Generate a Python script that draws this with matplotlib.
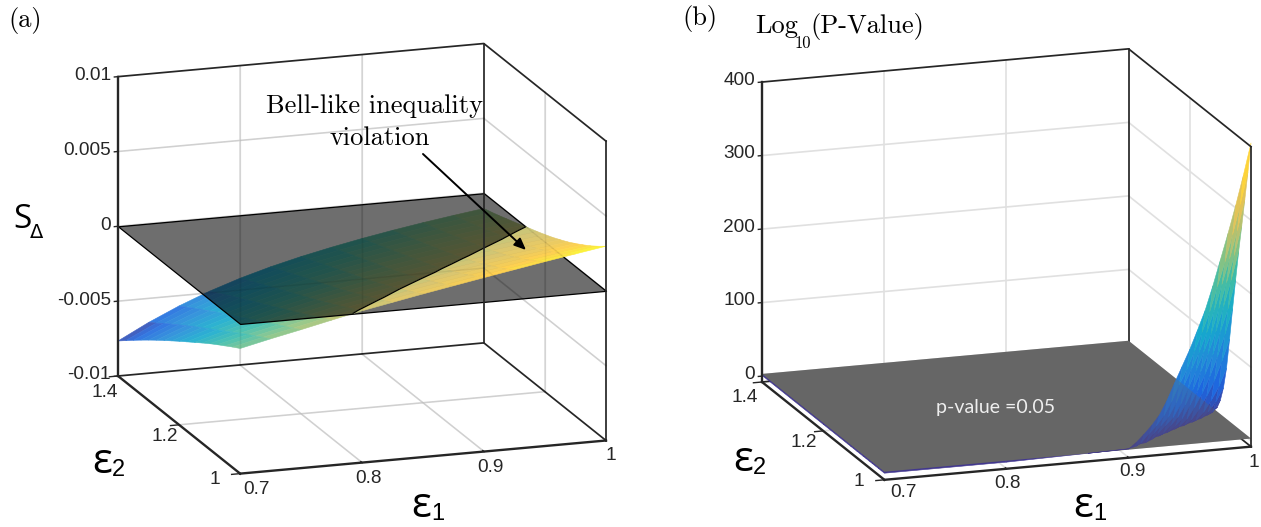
import numpy as np
import matplotlib
matplotlib.use('Agg')
import matplotlib.pyplot as plt
from matplotlib.colors import LinearSegmentedColormap
from mpl_toolkits.mplot3d import proj3d
from mpl_toolkits.mplot3d.art3d import Poly3DCollection

W, H = 1261, 527

# panel (a), S_delta in units of 1e-3, one row per eps1 value
eps1_a = [0.7, 0.725, 0.75, 0.775, 0.8, 0.825, 0.85, 0.875, 0.9, 0.925, 0.95, 0.975, 1.0]
eps2_a = [1.0, 1.025, 1.05, 1.075, 1.1, 1.125, 1.15, 1.175, 1.2, 1.225, 1.25, 1.275, 1.3, 1.325, 1.35, 1.375, 1.4]
s_delta = [
    [-1.64, -1.95, -2.28, -2.61, -2.95, -3.31, -3.68, -4.05, -4.42, -4.80, -5.18, -5.57, -5.97, -6.38, -6.80, -7.23, -7.66],
    [-1.18, -1.48, -1.80, -2.11, -2.43, -2.76, -3.10, -3.43, -3.76, -4.10, -4.43, -4.78, -5.13, -5.49, -5.86, -6.24, -6.61],
    [-0.75, -1.05, -1.35, -1.64, -1.95, -2.26, -2.56, -2.86, -3.16, -3.47, -3.76, -4.07, -4.39, -4.70, -5.03, -5.36, -5.69],
    [-0.30, -0.60, -0.89, -1.18, -1.47, -1.76, -2.04, -2.32, -2.60, -2.88, -3.15, -3.43, -3.72, -4.00, -4.30, -4.60, -4.89],
    [0.14, -0.16, -0.45, -0.73, -1.02, -1.30, -1.57, -1.84, -2.10, -2.36, -2.61, -2.87, -3.14, -3.40, -3.67, -3.95, -4.21],
    [0.52, 0.22, -0.08, -0.36, -0.63, -0.91, -1.17, -1.43, -1.67, -1.92, -2.15, -2.39, -2.64, -2.88, -3.14, -3.39, -3.63],
    [0.90, 0.59, 0.29, 0.01, -0.27, -0.54, -0.80, -1.04, -1.28, -1.51, -1.74, -1.97, -2.20, -2.43, -2.67, -2.90, -3.13],
    [1.26, 0.94, 0.63, 0.35, 0.07, -0.21, -0.46, -0.70, -0.93, -1.15, -1.37, -1.59, -1.81, -2.03, -2.26, -2.48, -2.69],
    [1.62, 1.29, 0.97, 0.68, 0.39, 0.12, -0.13, -0.37, -0.60, -0.82, -1.02, -1.24, -1.45, -1.66, -1.88, -2.09, -2.29],
    [1.97, 1.62, 1.29, 0.99, 0.70, 0.42, 0.17, -0.07, -0.29, -0.51, -0.71, -0.92, -1.13, -1.33, -1.54, -1.74, -1.93],
    [2.32, 1.95, 1.61, 1.30, 0.99, 0.71, 0.45, 0.21, -0.01, -0.22, -0.42, -0.62, -0.83, -1.03, -1.23, -1.42, -1.60],
    [2.65, 2.26, 1.91, 1.58, 1.26, 0.97, 0.72, 0.47, 0.25, 0.04, -0.15, -0.35, -0.56, -0.75, -0.95, -1.13, -1.30],
    [2.98, 2.57, 2.19, 1.85, 1.53, 1.23, 0.97, 0.72, 0.50, 0.29, 0.10, -0.10, -0.30, -0.49, -0.68, -0.86, -1.02],
]

# panel (b), log10 of the p-value, one row per eps1 value
eps1_b = [0.7, 0.8, 0.9, 0.90625, 0.9125, 0.91875, 0.925, 0.93125, 0.9375, 0.94375, 0.95,
          0.95625, 0.9625, 0.96875, 0.975, 0.98125, 0.9875, 0.99375, 1.0]
eps2_b = [1.0, 1.01, 1.02, 1.03, 1.04, 1.05, 1.06, 1.07, 1.08, 1.09, 1.1, 1.11, 1.12, 1.2, 1.3, 1.4]
log_p = [
    [1, 1, 1, 1, 1, 1, 1, 1, 1, 1, 1, 1, 1, 1, 1, 1],
    [1, 1, 1, 1, 1, 1, 1, 1, 1, 1, 1, 1, 1, 1, 1, 1],
    [4, 1, 1, 1, 1, 1, 1, 1, 1, 1, 1, 1, 1, 1, 1, 1],
    [12, 1, 1, 1, 1, 1, 1, 1, 1, 1, 1, 1, 1, 1, 1, 1],
    [22, 7, 1, 1, 1, 1, 1, 1, 1, 1, 1, 1, 1, 1, 1, 1],
    [33, 18, 3, 1, 1, 1, 1, 1, 1, 1, 1, 1, 1, 1, 1, 1],
    [46, 28, 14, 1, 1, 1, 1, 1, 1, 1, 1, 1, 1, 1, 1, 1],
    [65, 41, 24, 10, 1, 1, 1, 1, 1, 1, 1, 1, 1, 1, 1, 1],
    [88, 59, 35, 20, 5, 1, 1, 1, 1, 1, 1, 1, 1, 1, 1, 1],
    [110, 81, 53, 30, 15, 3, 1, 1, 1, 1, 1, 1, 1, 1, 1, 1],
    [132, 101, 76, 47, 26, 10, 1, 1, 1, 1, 1, 1, 1, 1, 1, 1],
    [157, 125, 97, 68, 42, 20, 6, 1, 1, 1, 1, 1, 1, 1, 1, 1],
    [183, 150, 119, 91, 62, 37, 15, 3, 1, 1, 1, 1, 1, 1, 1, 1],
    [215, 177, 145, 115, 85, 56, 30, 10, 1, 1, 1, 1, 1, 1, 1, 1],
    [250, 210, 175, 140, 109, 78, 48, 23, 5, 1, 1, 1, 1, 1, 1, 1],
    [285, 243, 209, 173, 138, 103, 70, 40, 15, 3, 1, 1, 1, 1, 1, 1],
    [322, 279, 243, 207, 171, 134, 96, 60, 30, 11, 2, 1, 1, 1, 1, 1],
    [362, 319, 280, 243, 206, 164, 126, 86, 48, 24, 7, 1, 1, 1, 1, 1],
    [405, 362, 322, 283, 245, 203, 160, 115, 72, 42, 22, 9, 3, 1, 1, 1],
]
p_level = 3

x_ticks = [0.7, 0.8, 0.9, 1.0]
x_labels = ['0.7', '0.8', '0.9', '1']
y_ticks = [1.0, 1.2, 1.4]
y_labels = ['1', '1.2', '1.4']
z_ticks_a = [-0.01, -0.005, 0, 0.005, 0.01]
z_labels_a = ['-0.01', '-0.005', '0', '0.005', '0.01']
z_ticks_b = [0, 100, 200, 300, 400]
z_labels_b = ['0', '100', '200', '300', '400']

parula = LinearSegmentedColormap.from_list('parula', [
    '#352a87', '#0f5cdd', '#1481d6', '#06a4ca', '#2eb7a4',
    '#87bf77', '#d1bb59', '#fec832', '#f9fb0e'])

AXC = '#262626'
GRIDC = '#e0e0e0'


def clip_cell(pts, level, above):
    # cut one quad at z = level, keep one side
    out = []
    for i in range(len(pts)):
        a, b = pts[i], pts[(i + 1) % len(pts)]
        ina = a[2] >= level if above else a[2] <= level
        inb = b[2] >= level if above else b[2] <= level
        if ina:
            out.append(a)
        if ina != inb:
            t = (level - a[2]) / (b[2] - a[2])
            out.append([a[k] + t * (b[k] - a[k]) for k in range(3)])
    return out


def split_surface(xs, ys, zs, level, white):
    zs = np.asarray(zs, dtype=float)
    lo, hi = zs.min(), zs.max()
    low_polys, low_cols, up_polys, up_cols = [], [], [], []
    for i in range(len(xs) - 1):
        for j in range(len(ys) - 1):
            quad = [[xs[i], ys[j], zs[i, j]], [xs[i + 1], ys[j], zs[i + 1, j]],
                    [xs[i + 1], ys[j + 1], zs[i + 1, j + 1]], [xs[i], ys[j + 1], zs[i, j + 1]]]
            col = np.array(parula((np.mean([q[2] for q in quad]) - lo) / (hi - lo)))
            col[:3] = col[:3] * (1 - white) + white
            p = clip_cell(quad, level, False)
            if len(p) > 2:
                low_polys.append(p)
                low_cols.append(col)
            p = clip_cell(quad, level, True)
            if len(p) > 2:
                up_polys.append(p)
                up_cols.append(col)
    return low_polys, low_cols, up_polys, up_cols


def add_polys(ax, polys, cols, zorder):
    if polys:
        c = Poly3DCollection(polys, facecolors=cols, edgecolors=cols, linewidths=0.4)
        c.set_zorder(zorder)
        ax.add_collection3d(c)


def draw_grid(ax, xl, yl, zl, zt, **kw):
    x0, x1 = xl
    y0, y1 = yl
    z0, z1 = zl
    for x in x_ticks[1:-1]:
        ax.plot([x, x], [y0, y1], [z0, z0], **kw)
        ax.plot([x, x], [y1, y1], [z0, z1], **kw)
    for y in y_ticks[1:-1]:
        ax.plot([x0, x1], [y, y], [z0, z0], **kw)
        ax.plot([x1, x1], [y, y], [z0, z1], **kw)
    for z in zt[:-1]:
        if z > z0:
            ax.plot([x0, x1], [y1, y1], [z, z], **kw)
            ax.plot([x1, x1], [y1, y0], [z, z], **kw)


def draw_box(ax, xl, yl, zl, zt, back_zorder):
    x0, x1 = xl
    y0, y1 = yl
    z0, z1 = zl
    # thin box edges
    kw = dict(color=AXC, lw=1.25, zorder=6)
    ax.plot([x0, x1, x1], [y1, y1, y0], [z1, z1, z1], **kw)
    ax.plot([x1, x1], [y0, y0], [z0, z1], **kw)
    # these sit behind the plane in (b), where it is opaque
    kw['zorder'] = back_zorder
    ax.plot([x1, x1], [y1, y1], [z0, z1], **kw)
    ax.plot([x0, x1, x1], [y1, y1, y0], [z0, z0, z0], **kw)
    # heavier axis lines
    kw = dict(color=AXC, lw=1.7, zorder=6)
    ax.plot([x0, x0], [y1, y1], [z0, z1], **kw)
    ax.plot([x0, x0], [y1, y0], [z0, z0], **kw)
    ax.plot([x0, x1], [y0, y0], [z0, z0], **kw)
    # tick stubs
    kw = dict(color=AXC, lw=1.0, zorder=6)
    for x in x_ticks:
        ax.plot([x, x], [y0, y0 + 0.004], [z0, z0], **kw)
    for y in y_ticks:
        ax.plot([x0, x0 - 0.007], [y, y], [z0, z0], **kw)
    for z in zt:
        ax.plot([x0, x0 - 0.003], [y1, y1], [z, z], **kw)


def fit_box(ax, xl, yl, zl, left_px, right_px):
    # place the square axes so that the floor corners land on the wanted pixels
    ax.set_xlim(xl)
    ax.set_ylim(yl)
    ax.set_zlim(zl)
    ax.set_position([0, 0, 500 / W, 500 / H])
    M = ax.get_proj()
    pa = proj3d.proj_transform(xl[0], yl[1], zl[0], M)[:2]
    pb = proj3d.proj_transform(xl[1], yl[0], zl[0], M)[:2]
    da = ax.transData.transform(pa)
    db = ax.transData.transform(pb)
    scale = (right_px[0] - left_px[0]) / (db[0] - da[0])
    L = 500 * scale
    left = left_px[0] - da[0] * scale
    bottom = (H - left_px[1]) - da[1] * scale
    ax.set_position([left / W, bottom / H, L / W, L / H])


def put(ax, x, y, z, s, dx, dy, ha='center', va='center', size=13.7):
    p = proj3d.proj_transform(x, y, z, ax.get_proj())[:2]
    ax.annotate(s, p, xytext=(dx, dy), textcoords='offset pixels', ha=ha, va=va,
                fontsize=size, color=AXC, family='Liberation Sans',
                annotation_clip=False, zorder=10)


def px_text(x, y, s, size, family='cmr10', color='k', ha='left'):
    fig.text(x / W, 1 - y / H, s, fontsize=size, family=family, color=color, ha=ha, va='center')


def new_axes():
    ax = fig.add_axes([0, 0, 0.5, 0.5], projection='3d', computed_zorder=False)
    ax.set_proj_type('ortho')
    ax.view_init(elev=15.6, azim=-108.6)
    ax.set_box_aspect((385, 382, 310))
    ax.set_axis_off()
    return ax


fig = plt.figure(figsize=(W / 100, H / 100), dpi=100)

# panel (a)
xl, yl, zl = (0.7, 1.0), (1.0, 1.4), (-0.01, 0.01)
ax = new_axes()
zs = np.array(s_delta) * 1e-3
low_p, low_c, up_p, up_c = split_surface(eps1_a, eps2_a, zs, 0, 0.15)
draw_grid(ax, xl, yl, zl, z_ticks_a, color=GRIDC, lw=1.2, zorder=1)
draw_box(ax, xl, yl, zl, z_ticks_a, 6)
add_polys(ax, low_p, low_c, 2)
plane = Poly3DCollection([[[xl[0], yl[0], 0], [xl[1], yl[0], 0], [xl[1], yl[1], 0], [xl[0], yl[1], 0]]],
                         facecolors=[(0, 0, 0, 0.57)], edgecolors=['k'], linewidths=0.9)
plane.set_zorder(3)
ax.add_collection3d(plane)
add_polys(ax, up_p, up_c, 4)
X, Y = np.meshgrid(eps1_a, eps2_a, indexing='ij')
ax.contour(X, Y, zs, levels=[0], colors='k', linewidths=0.9, zorder=5)
# grid shows faintly through the surface
draw_grid(ax, xl, yl, zl, z_ticks_a, color='k', lw=1.0, alpha=0.07, zorder=7)
fit_box(ax, xl, yl, zl, (118, 376), (606, 440))
for x, s, off in zip(x_ticks, x_labels, [(16, -16), (6, -16), (6, -16), (5, -15)]):
    put(ax, x, yl[0], zl[0], s, off[0], off[1])
for y, s, off in zip(y_ticks, y_labels, [(-25, -6), (-14, -12), (-13, -17)]):
    put(ax, xl[0], y, zl[0], s, off[0], off[1])
for z, s in zip(z_ticks_a, z_labels_a):
    put(ax, xl[0], yl[1], z, s, -7, 1, ha='right')
ax.annotate('', xy=(526, H - 250), xytext=(423, H - 154), xycoords='figure pixels', textcoords='figure pixels',
            arrowprops=dict(arrowstyle='-|>,head_length=0.7,head_width=0.3', color='k', lw=1.4, shrinkA=0, shrinkB=0),
            annotation_clip=False, zorder=9)

# panel (b)
xl, yl, zl = (0.7, 1.0), (1.0, 1.4), (-8, 400)
ax = new_axes()
low_p, low_c, up_p, up_c = split_surface(eps1_b, eps2_b, log_p, p_level, 0.06)
draw_grid(ax, xl, yl, zl, z_ticks_b, color=GRIDC, lw=1.2, zorder=1)
draw_box(ax, xl, yl, zl, z_ticks_b, 1.5)
add_polys(ax, low_p, low_c, 2)
corners = [[xl[0], yl[0], p_level], [xl[1], yl[0], p_level], [xl[1], yl[1], p_level], [xl[0], yl[1], p_level]]
plane = Poly3DCollection([corners], facecolors=['#666666'], edgecolors='none')
plane.set_zorder(3)
ax.add_collection3d(plane)
add_polys(ax, up_p, up_c, 4)
veil = Poly3DCollection([corners], facecolors=[(0.4, 0.4, 0.4, 0.25)], edgecolors='none')
veil.set_zorder(5)
ax.add_collection3d(veil)
fit_box(ax, xl, yl, zl, (762, 382), (1251, 447))
for x, s, off in zip(x_ticks, x_labels, [(19, -13), (1, -15), (4, -14), (3, -16)]):
    put(ax, x, yl[0], zl[0], s, off[0], off[1])
for y, s, off in zip(y_ticks, y_labels, [(-26, -2), (-19, -12), (-17, -16)]):
    put(ax, xl[0], y, zl[0], s, off[0], off[1])
for z, s in zip(z_ticks_b, z_labels_b):
    put(ax, xl[0], yl[1], z, s, -7, 2, ha='right')

# labels
px_text(8, 21, '(a)', 19)
px_text(682, 18, '(b)', 19)
px_text(755, 26, 'Log', 19)
px_text(795, 43, '10', 12)
px_text(810, 26, '(P-Value)', 19)
px_text(375, 106, 'Bell-like inequality', 19, ha='center')
px_text(380, 138, 'violation', 19, ha='center')
px_text(936, 408, 'p-value =0.05', 14, family='Lato', color='#eeeeee')

px_text(13, 220, 'S', 24, family='Open Sans')
px_text(30, 232, '\u0394', 14, family='DejaVu Sans')
for ex, ey, s in [(92, 462, '2'), (411, 506, '1'), (733, 460, '2'), (1073, 506, '1')]:
    px_text(ex, ey, '\u03b5', 30, family='Open Sans')
    px_text(ex + 20, ey + 8, s, 17, family='Liberation Sans')

fig.savefig('out.png', dpi=100)
